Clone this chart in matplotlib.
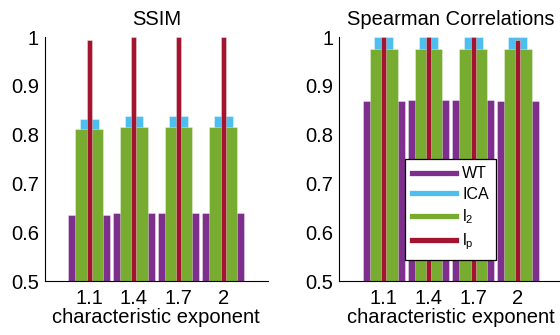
import matplotlib
matplotlib.use("Agg")
import matplotlib.pyplot as plt
import numpy as np
from matplotlib.lines import Line2D

plt.rcParams['font.family'] = ['Liberation Sans', 'DejaVu Sans']
plt.rcParams['mathtext.fontset'] = 'custom'
plt.rcParams['mathtext.rm'] = 'Liberation Sans'

categories = ['1.1', '1.4', '1.7', '2']
series_names = ['WT', 'ICA', r'l$_2$', r'l$_\mathregular{p}$']

ssim_wt = [0.635, 0.640, 0.640, 0.640]
ssim_ica = [0.832, 0.839, 0.839, 0.839]
ssim_l2 = [0.811, 0.816, 0.816, 0.816]
ssim_lp = [0.995, 1.0, 1.0, 1.0]

spear_wt = [0.870, 0.872, 0.872, 0.870]
spear_ica = [1.0, 1.0, 1.0, 1.0]
spear_l2 = [0.975, 0.975, 0.975, 0.975]
spear_lp = [1.0, 1.0, 1.0, 0.995]

yticks = [0.5, 0.6, 0.7, 0.8, 0.9, 1.0]
ytick_labels = ['0.5', '0.6', '0.7', '0.8', '0.9', '1']

colors = ['#7E2F8E', '#4DBEEE', '#77AC30', '#A2142F']
widths = [0.93, 0.42, 0.62, 0.11]

fig = plt.figure(figsize=(5.6, 3.35), dpi=100)
ax1 = fig.add_axes([0.0795, 0.161, 0.399, 0.728])
ax2 = fig.add_axes([0.6055, 0.161, 0.399, 0.728])

x = np.arange(1, len(categories) + 1)

def draw(ax, data, title):
    for vals, c, w, name in zip(data, colors, widths, series_names):
        ax.bar(x, np.array(vals) - 0.5, width=w, bottom=0.5, color=c,
               edgecolor=(1, 1, 1, 0.5), linewidth=0.5, label=name)
    ax.set_xlim(0, 5)
    ax.set_ylim(0.5, 1.0)
    ax.set_xticks(x)
    ax.set_xticklabels(categories)
    ax.set_yticks(yticks)
    ax.set_yticklabels(ytick_labels)
    ax.tick_params(axis='both', length=0, labelsize=14.5)
    ax.tick_params(axis='x', pad=6)
    ax.tick_params(axis='y', pad=4)
    ax.spines['top'].set_visible(False)
    ax.spines['right'].set_visible(False)
    ax.spines['left'].set_linewidth(0.8)
    ax.spines['bottom'].set_linewidth(0.8)
    ax.set_title(title, fontsize=14.5, pad=9)
    ax.set_xlabel('characteristic exponent', fontsize=14.5, labelpad=0)

draw(ax1, [ssim_wt, ssim_ica, ssim_l2, ssim_lp], 'SSIM')
draw(ax2, [spear_wt, spear_ica, spear_l2, spear_lp], 'Spearman Correlations')

handles = [Line2D([0], [0], color=c, lw=3.8) for c in colors]
leg = ax2.legend(handles, series_names, loc='upper left',
                 bbox_to_anchor=(0.723, 0.525), bbox_transform=fig.transFigure,
                 borderaxespad=0, fancybox=False, framealpha=1,
                 edgecolor='black', fontsize=11.5, handlelength=2.75,
                 labelspacing=0.35, borderpad=0.45, handletextpad=0.4)
leg.get_frame().set_linewidth(0.9)

fig.savefig('out.png', dpi=100)
